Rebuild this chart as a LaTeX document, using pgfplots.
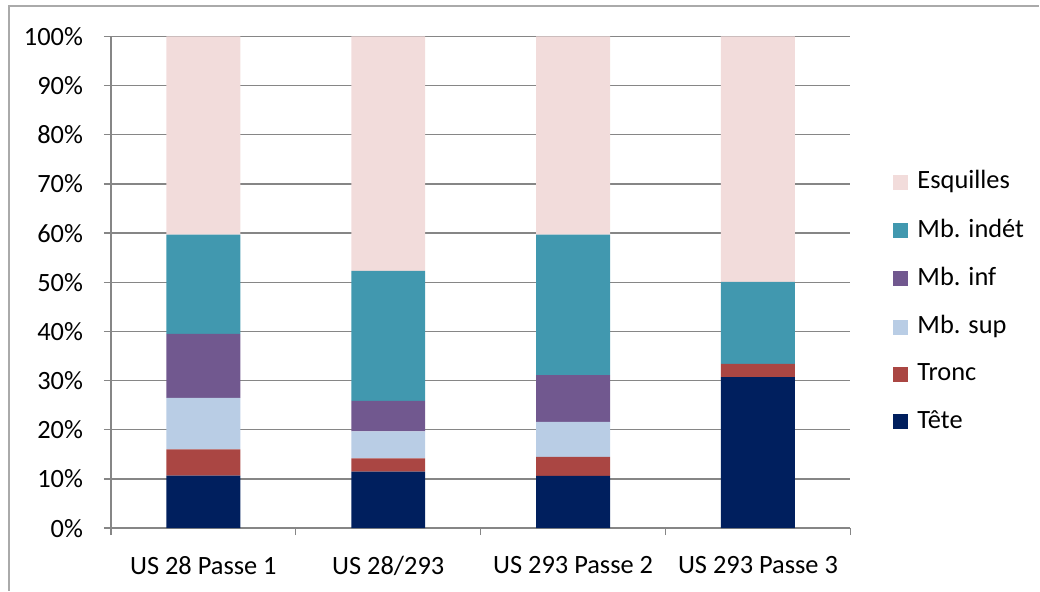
\documentclass[border=0pt]{standalone}
\usepackage{pgfplots}
\pgfplotsset{compat=1.18}
\usepackage{fontspec}
\setmainfont{Carlito}
\definecolor{cTete}{RGB}{0,31,94}
\definecolor{cTronc}{RGB}{170,70,67}
\definecolor{cSup}{RGB}{185,205,229}
\definecolor{cInf}{RGB}{113,88,143}
\definecolor{cIndet}{RGB}{65,152,175}
\definecolor{cEsq}{RGB}{242,220,219}
\definecolor{gridgray}{RGB}{134,134,134}
\begin{document}
\fontsize{26.5}{31}\selectfont
\begin{tikzpicture}[x=1bp,y=1bp]
\path (0,0) rectangle (1040,591);
\draw[gridgray!70, line width=1.5bp] (9,0) -- (9,585) -- (1040,585);
\begin{axis}[
  at={(111bp,62.5bp)}, anchor=south west,
  scale only axis, width=740bp, height=492bp,
  xmin=-0.5, xmax=3.5, ymin=0, ymax=100,
  ybar stacked, bar width=0.4, bar shift=0pt,
  axis x line*=bottom, axis y line*=left,
  axis line style={gridgray, line width=1.3bp, -},
  ymajorgrids, grid style={gridgray, line width=1.3bp},
  ytick={0,10,...,100},
  yticklabels={0\%,10\%,20\%,30\%,40\%,50\%,60\%,70\%,80\%,90\%,100\%},
  xtick={0,1,2,3},
  xticklabels={US 28 Passe 1, US 28/293, US 293 Passe 2, US 293 Passe 3},
  minor xtick={-0.5,0.5,1.5,2.5,3.5},
  tick align=outside,
  major tick length=7bp, minor tick length=7bp,
  x tick style={draw=none},
  minor x tick style={draw=gridgray, line width=1.3bp},
  y tick style={gridgray, line width=1.3bp},
  tick label style={font=\fontsize{26.5}{31}\selectfont},
  yticklabel style={xshift=-12bp},
  xticklabel style={yshift=-12bp},
  legend style={draw=none, fill=none, at={(1.058,0.461)}, anchor=west,
    font=\fontsize{26.5}{31}\selectfont, row sep=22bp, inner sep=0pt,
    /tikz/every odd column/.append style={column sep=7bp}},
  legend cell align=left,
  reverse legend,
  legend image code/.code={\fill[#1,draw=none] (0bp,-8bp) rectangle (15bp,7bp);},
]
\addplot[fill=cTete, draw=none] coordinates {(0,10.7) (1,11.5) (2,10.6) (3,30.7)};
\addplot[fill=cTronc, draw=none] coordinates {(0,5.3) (1,2.7) (2,3.9) (3,2.7)};
\addplot[fill=cSup, draw=none] coordinates {(0,10.5) (1,5.5) (2,7.1) (3,0)};
\addplot[fill=cInf, draw=none] coordinates {(0,13.0) (1,6.2) (2,9.5) (3,0)};
\addplot[fill=cIndet, draw=none] coordinates {(0,20.2) (1,26.4) (2,28.6) (3,16.7)};
\addplot[fill=cEsq, draw=none] coordinates {(0,40.3) (1,47.7) (2,40.3) (3,49.9)};
\legend{T\^ete, Tronc, Mb. sup, Mb. inf, Mb. ind\'et, Esquilles}
\end{axis}
\end{tikzpicture}
\end{document}
